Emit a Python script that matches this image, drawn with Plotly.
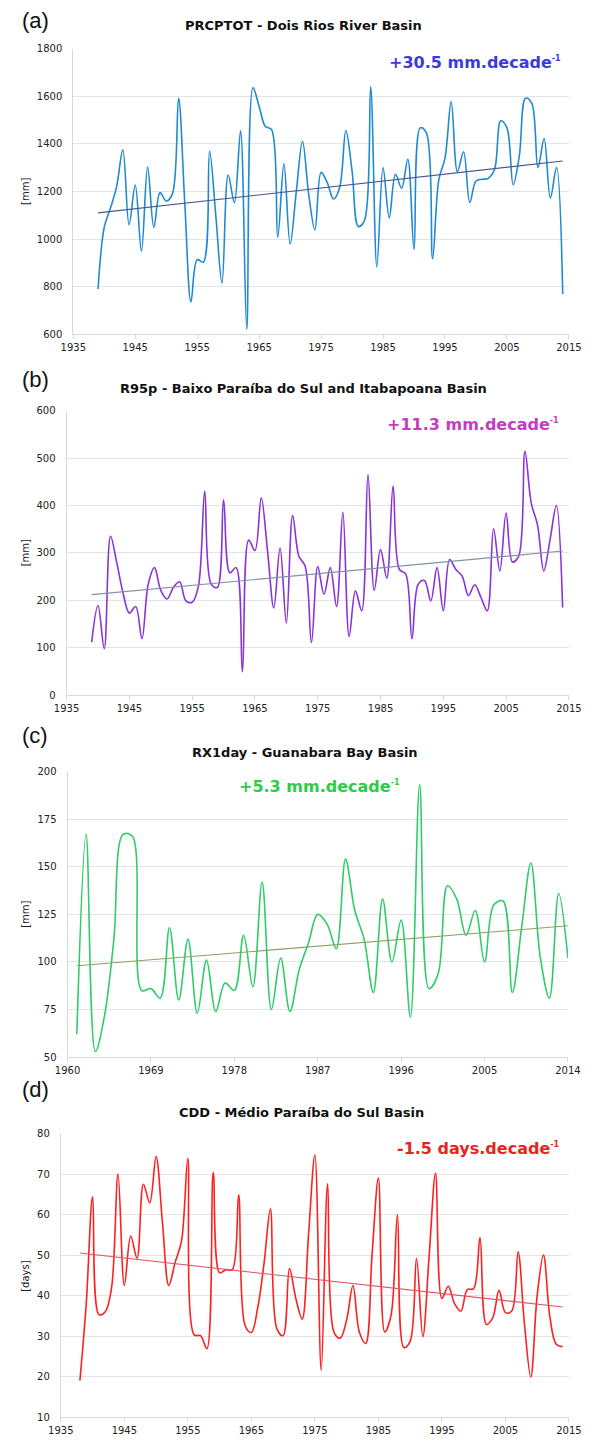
import plotly.graph_objects as go

W, H = 602, 1442

# ---------------- data ----------------
years_a = list(range(1939, 2015))
prcptot = [790, 1050, 1130, 1220, 1375, 1060, 1227, 949, 1302, 1049,
           1195, 1160, 1190, 1591, 1150, 736, 913, 903, 1369, 1100,
           815, 1269, 1153, 1455, 621, 1636, 1557, 1473, 1460, 1007,
           1316, 979, 1200, 1411, 1188, 1038, 1280, 1237, 1168, 1217,
           1456, 1286, 1053, 1078, 1640, 883, 1300, 1089, 1272, 1214,
           1335, 956, 1467, 1446, 917, 1250, 1340, 1578, 1283, 1367,
           1154, 1244, 1251, 1255, 1293, 1497, 1467, 1228, 1350, 1592,
           1571, 1300, 1422, 1172, 1300, 769]
trend_a_years = [1939, 2014]
trend_a = [1110, 1328]

years_b = list(range(1939, 2015))
r95p = [112, 189, 98, 335, 279, 215, 173, 187, 119, 234,
        269, 221, 203, 227, 239, 199, 196, 230, 430, 235,
        227, 412, 258, 269, 49, 327, 305, 416, 305, 184,
        311, 152, 379, 293, 272, 111, 271, 213, 269, 187,
        386, 124, 220, 178, 465, 221, 307, 247, 441, 265,
        256, 119, 234, 242, 199, 269, 178, 286, 265, 251,
        210, 233, 206, 178, 351, 262, 384, 281, 293, 514,
        405, 359, 262, 328, 400, 185]
trend_b_years = [1939, 2014]
trend_b = [212, 304]

years_c = list(range(1961, 2015))
rx1day = [62, 167, 53, 72, 112, 167, 166, 85, 86, 81,
          118, 80, 112, 73, 101, 74, 89, 85, 114, 87,
          142, 75, 102, 74, 96, 110, 125, 120, 107, 154,
          127, 112, 84, 133, 100, 122, 71, 193, 86, 94,
          140, 133, 114, 127, 100, 130, 132, 84, 118, 152,
          103, 81, 136, 102]
trend_c_years = [1961, 2014]
trend_c = [98, 119]

years_d = list(range(1938, 2015))
cdd = [19, 38, 64.4, 35.3, 36, 42.1, 70, 42.5, 54.7, 49.2,
       67.5, 62.9, 74.3, 58, 42.5, 48.2, 53.5, 73.9, 30.3, 30.1,
       26.9, 70.4, 45.6, 46.4, 46.4, 64.9, 32.7, 30.9, 37, 48,
       61.4, 31.9, 30.1, 46.7, 39.3, 34.2, 55, 74.7, 21.5, 67.6,
       31, 29.5, 34, 42.5, 31, 28.2, 50, 69, 31, 35.2,
       60, 27.2, 28.7, 49.2, 29.9, 50, 70.2, 39.3, 42.3, 38,
       36.2, 41.5, 41.7, 54.3, 32.9, 34.5, 41.3, 35.8, 36.2, 50.8,
       33, 19.9, 40, 50, 34.8, 28, 27.4]
trend_d_years = [1938, 2014]
trend_d = [50.5, 37.2]

titles = ["PRCPTOT - Dois Rios River Basin",
          "R95p - Baixo Paraíba do Sul and Itabapoana Basin",
          "RX1day - Guanabara Bay Basin",
          "CDD - Médio Paraíba do Sul Basin"]
letters = ["(a)", "(b)", "(c)", "(d)"]
SUP = '<sup><span style="font-size:8px">-1</span></sup>'
trend_texts = ["+30.5 mm.decade", "+11.3 mm.decade", "+5.3 mm.decade", "-1.5 days.decade"]
units = ["[mm]", "[mm]", "[mm]", "[days]"]

# ---------------- styling / layout ----------------
line_colors = ["#1f8ad2", "#8a33d6", "#2fcc6a", "#ff1f1f"]
trend_colors = ["#4a5696", "#7f93a8", "#8f9f62", "#e25465"]
text_colors = ["#3b3bdc", "#c43cc4", "#2ccc48", "#e8241c"]

# plot-area pixel boxes: (x0, x1, y_top, y_bottom)
boxes = [(63, 581, 43, 331), (56, 581, 408, 695), (57, 580, 772, 1060), (50, 581, 1137, 1423)]
xranges = [[1935, 2015], [1935, 2015], [1960, 2014], [1935, 2015]]
xdticks = [10, 10, 9, 10]
yranges = [[600, 1800], [0, 600], [50, 200], [10, 80]]
ydticks = [200, 100, 25, 10]
title_y = [20, 386, 753, 1116]
title_x = [304, 304, 305, 301]
letter_y = [15, 377, 736, 1093]
ann_pos = [(575, 57), (573, 422), (320, 787), (574, 1152)]
ann_anchor = ["right", "right", "center", "right"]

def px(x):
    return x / W

def py(y):
    return 1 - y / H

series = [(years_a, prcptot, trend_a_years, trend_a),
          (years_b, r95p, trend_b_years, trend_b),
          (years_c, rx1day, trend_c_years, trend_c),
          (years_d, cdd, trend_d_years, trend_d)]

fig = go.Figure()
annotations = []
layout = dict(width=W, height=H, margin=dict(l=0, r=0, t=0, b=0), autosize=False,
              paper_bgcolor="white", plot_bgcolor="white", showlegend=False,
              font=dict(family="DejaVu Sans", size=10, color="#222222"))

for i, (xs, ys, tx, ty) in enumerate(series):
    n = "" if i == 0 else str(i + 1)
    xa, ya = "x" + n, "y" + n
    fig.add_trace(go.Scatter(x=xs, y=ys, mode="lines", xaxis=xa, yaxis=ya,
                             line=dict(color=line_colors[i], width=1.6, shape="spline", smoothing=1.0)))
    fig.add_trace(go.Scatter(x=tx, y=ty, mode="lines", xaxis=xa, yaxis=ya,
                             line=dict(color=trend_colors[i], width=1.1)))
    x0, x1, yt, yb = boxes[i]
    layout["xaxis" + n] = dict(domain=[px(x0), px(x1)], anchor=ya, range=xranges[i],
                               tick0=xranges[i][0], dtick=xdticks[i], showgrid=False,
                               showline=True, linecolor="#d9d9d9", linewidth=1,
                               ticks="outside", ticklen=4, tickcolor="#d9d9d9",
                               tickfont=dict(family="DejaVu Sans", size=10, color="#222222"),
                               zeroline=False)
    layout["yaxis" + n] = dict(domain=[py(yb), py(yt)], anchor=xa, range=yranges[i],
                               dtick=ydticks[i], showgrid=True, gridcolor="#e4e4e4", gridwidth=1,
                               showline=True, linecolor="#d9d9d9", linewidth=1,
                               ticks="", ticklabelstandoff=8,
                               tickfont=dict(family="DejaVu Sans", size=10, color="#222222"),
                               zeroline=False)
    annotations.append(dict(text="<b>" + titles[i] + "</b>", x=px(title_x[i]), y=py(title_y[i]),
                            xref="paper", yref="paper", showarrow=False, xanchor="center", yanchor="middle",
                            font=dict(family="DejaVu Sans", size=13, color="#111111")))
    annotations.append(dict(text=letters[i], x=px(7), y=py(letter_y[i]), xref="paper", yref="paper",
                            showarrow=False, xanchor="left", yanchor="middle",
                            font=dict(family="Liberation Sans", size=22, color="#111111")))
    ax, ay = ann_pos[i]
    annotations.append(dict(text="<b>" + trend_texts[i] + SUP + "</b>", x=px(ax), y=py(ay),
                            xref="paper", yref="paper", showarrow=False, xanchor=ann_anchor[i], yanchor="middle",
                            font=dict(family="DejaVu Sans", size=16, color=text_colors[i])))
    annotations.append(dict(text=units[i], x=px(13), y=py((yt + yb) / 2), xref="paper", yref="paper",
                            showarrow=False, textangle=-90, xanchor="center", yanchor="middle",
                            font=dict(family="DejaVu Sans", size=10, color="#222222")))

layout["annotations"] = annotations
fig.update_layout(**layout)
fig.write_html("out.html",
               config={"displayModeBar": False, "responsive": False},
               post_script="document.body.style.margin='0';document.body.style.overflow='hidden';")
